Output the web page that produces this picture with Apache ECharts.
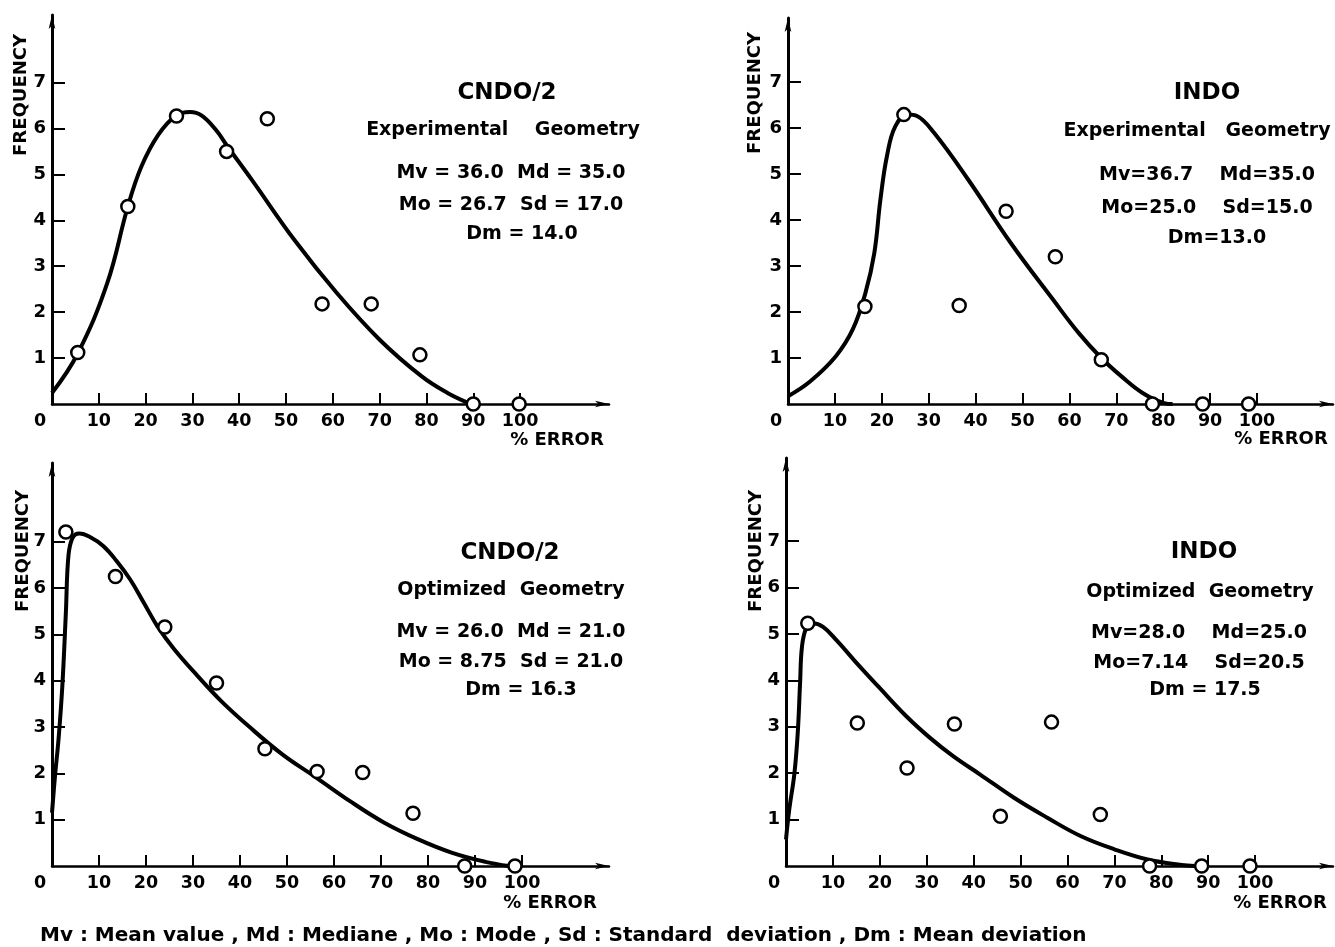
<!DOCTYPE html>
<html>
<head>
<meta charset="utf-8">
<title>Frequency of % error</title>
<style>
  html, body { margin: 0; padding: 0; background: #fff; }
  #page { width: 1335px; height: 947px; }
</style>
</head>
<body>
<div id="page"></div>
<script src="https://cdn.jsdelivr.net/npm/echarts@6/dist/echarts.min.js"></script>
<script>
// measured points (% error, frequency) for each panel
var p1x = [5.5, 16.2, 26.6, 37.3, 46.0, 57.7, 68.2, 78.6, 90, 99.8];
var p1y = [1.12, 4.3, 6.27, 5.5, 6.21, 2.18, 2.18, 1.07, 0, 0];
var p2x = [16.4, 24.7, 36.5, 46.5, 57, 66.8, 77.7, 88.4, 98.2];
var p2y = [2.12, 6.29, 2.14, 4.19, 3.2, 0.96, 0, 0, 0];
var p3x = [2.95, 13.5, 24, 35, 45.3, 56.4, 66.1, 76.8, 87.8, 98.5];
var p3y = [7.21, 6.25, 5.16, 3.95, 2.53, 2.04, 2.02, 1.14, 0, 0];
var p4x = [4.64, 15.2, 25.8, 35.9, 45.7, 56.6, 67, 77.5, 88.6, 98.9];
var p4y = [5.23, 3.08, 2.11, 3.06, 1.07, 3.1, 1.11, 0, 0, 0];

// fitted curves
var c1x = [0, 5.5, 11.8, 16.2, 19.1, 22.7, 26.6, 29.5, 32, 35, 37.7, 42.7, 51.8, 60.9, 70, 79, 84.5, 89, 90];
var c1y = [0.24, 1.1, 2.63, 4.3, 5.17, 5.86, 6.29, 6.36, 6.28, 5.97, 5.58, 4.88, 3.57, 2.41, 1.4, 0.6, 0.24, 0.02, 0];
var c2x = [0, 4.7, 10.2, 13.8, 16.5, 18.4, 19.7, 21.1, 22.9, 25.6, 27.5, 31.1, 38.4, 47.5, 56.5, 62, 66.8, 71.1, 75.6, 80.2, 82];
var c2y = [0.17, 0.49, 1.04, 1.62, 2.41, 3.28, 4.44, 5.39, 6.04, 6.29, 6.26, 5.9, 4.88, 3.5, 2.27, 1.54, 1.0, 0.6, 0.24, 0.02, 0];
var c3x = [0, 0.6, 1.4, 2.2, 2.95, 3.5, 4.4, 5.8, 8.0, 10.9, 13.7, 16.6, 19.5, 22.4, 26, 31, 36, 41.8, 49, 56.2, 63.4, 70.6, 77.8, 85, 92.2, 97.2];
var c3y = [1.15, 1.9, 2.75, 3.89, 5.47, 6.7, 7.09, 7.18, 7.11, 6.91, 6.59, 6.19, 5.69, 5.18, 4.68, 4.1, 3.56, 3.02, 2.41, 1.91, 1.4, 0.94, 0.58, 0.29, 0.09, 0];
var c4x = [0, 0.7, 1.8, 2.5, 3.0, 3.4, 4.3, 5.7, 7.9, 10.7, 15.7, 20, 25.7, 30.7, 35.7, 41.4, 48.6, 55.7, 62.9, 70, 77.1, 84.3, 87.1];
var c4y = [0.57, 1.22, 2.0, 2.86, 3.94, 4.72, 5.12, 5.23, 5.15, 4.87, 4.3, 3.83, 3.22, 2.76, 2.36, 1.97, 1.47, 1.04, 0.64, 0.36, 0.14, 0.02, 0];

var xTicks = [10, 20, 30, 40, 50, 60, 70, 80, 90, 100];
var xLabels = [0, 10, 20, 30, 40, 50, 60, 70, 80, 90, 100];
var yTicks = [1, 2, 3, 4, 5, 6, 7];

var titles = ['CNDO/2', 'INDO', 'CNDO/2', 'INDO'];
var geoms = ['Experimental    Geometry', 'Experimental   Geometry', 'Optimized  Geometry', 'Optimized  Geometry'];
var statsA = ['Mv = 36.0  Md = 35.0', 'Mv=36.7    Md=35.0', 'Mv = 26.0  Md = 21.0', 'Mv=28.0    Md=25.0'];
var statsB = ['Mo = 26.7  Sd = 17.0', 'Mo=25.0    Sd=15.0', 'Mo = 8.75  Sd = 21.0', 'Mo=7.14    Sd=20.5'];
var statsC = ['Dm = 14.0', 'Dm=13.0', 'Dm = 16.3', 'Dm = 17.5'];
var yName = 'FREQUENCY';
var xName = '% ERROR';
var footer = 'Mv : Mean value , Md : Mediane , Mo : Mode , Sd : Standard  deviation , Dm : Mean deviation';

(function () {
    var fam = '"DejaVu Sans", "Liberation Sans", sans-serif';
    var chart = echarts.init(document.getElementById('page'));

    var grids = [
        {left: 52, top: 15, width: 557, height: 389},
        {left: 788, top: 18, width: 545, height: 386},
        {left: 52, top: 463, width: 557, height: 403},
        {left: 786, top: 458, width: 547, height: 408}
    ];
    var xMax = [119, 116.2, 118.5, 116.6];
    var yMax = [8.47, 8.39, 8.7, 8.79];

    var pts = [[p1x, p1y], [p2x, p2y], [p3x, p3y], [p4x, p4y]];
    var curves = [[c1x, c1y], [c2x, c2y], [c3x, c3y], [c4x, c4y]];

    function zip(xs, ys) {
        return xs.map(function (v, i) { return [v, ys[i]]; });
    }

    var xAxes = [], yAxes = [], series = [];
    grids.forEach(function (g, i) {
        g.outerBoundsMode = 'none';
        xAxes.push({
            type: 'value', gridIndex: i, min: 0, max: xMax[i],
            axisLine: {onZero: false, symbol: ['none', 'arrow'], symbolSize: [5, 14],
                lineStyle: {color: '#000', width: 2.5}},
            axisTick: {show: true, inside: true, length: 11, customValues: xTicks,
                lineStyle: {color: '#000', width: 2}},
            axisLabel: {
                customValues: xLabels, margin: 8, color: '#000',
                fontSize: 17.5, fontWeight: 'bold', fontFamily: fam,
                formatter: function (v) { return v === 0 ? '{z|0}' : String(v); },
                rich: {z: {padding: [0, 24, 0, 0], fontSize: 17.5, fontWeight: 'bold', fontFamily: fam, color: '#000'}}
            },
            splitLine: {show: false}
        });
        yAxes.push({
            type: 'value', gridIndex: i, min: 0, max: yMax[i],
            axisLine: {show: true, onZero: false, symbol: ['none', 'arrow'], symbolSize: [5, 14],
                lineStyle: {color: '#000', width: 3}},
            axisTick: {show: true, inside: true, length: 13, customValues: yTicks,
                lineStyle: {color: '#000', width: 2}},
            axisLabel: {customValues: yTicks, margin: 6, color: '#000',
                fontSize: 18, fontWeight: 'bold', fontFamily: fam},
            splitLine: {show: false}
        });
        series.push({
            type: 'line', xAxisIndex: i, yAxisIndex: i,
            data: zip(curves[i][0], curves[i][1]),
            smooth: 0.4, symbol: 'none',
            lineStyle: {color: '#000', width: 4},
            z: 2, silent: true
        });
        series.push({
            type: 'scatter', xAxisIndex: i, yAxisIndex: i,
            data: zip(pts[i][0], pts[i][1]),
            symbol: 'circle', symbolSize: 13,
            itemStyle: {color: '#fff', borderColor: '#000', borderWidth: 2.5, opacity: 1},
            z: 3, silent: true
        });
    });

    // annotation text
    function txt(s, x, y, size, align, rot) {
        return {
            type: 'text', x: x, y: y, rotation: rot || 0,
            style: {text: s, fill: '#000', align: align || 'center', verticalAlign: 'middle',
                font: 'bold ' + size + 'px ' + fam}
        };
    }
    var g = [];
    var tx = [507, 1207, 510, 1204];
    var ty = [93, 93, 553, 552];
    var gx = [503, 1197, 511, 1200];
    var gy = [130, 131, 590, 592];
    var sx = [511, 1207, 511, 1199];
    var sy = [[173, 205, 234], [175, 208, 238], [632, 662, 690], [633, 663, 690]];
    var dx = [522, 1217, 521, 1205];
    for (var i = 0; i < 4; i++) {
        g.push(txt(titles[i], tx[i], ty[i], 23));
        g.push(txt(geoms[i], gx[i], gy[i], 19));
        g.push(txt(statsA[i], sx[i], sy[i][0], 19));
        g.push(txt(statsB[i], sx[i], sy[i][1], 19));
        g.push(txt(statsC[i], dx[i], sy[i][2], 19));
    }
    var fx = [21, 755, 23, 756], fy = [95, 93, 551, 551];
    var ex = [557, 1281, 550, 1280], ey = [440, 439, 903, 903];
    for (var j = 0; j < 4; j++) {
        g.push(txt(yName, fx[j], fy[j], 18, 'center', Math.PI / 2));
        g.push(txt(xName, ex[j], ey[j], 18));
    }
    g.push(txt(footer, 40, 936, 20, 'left'));

    chart.setOption({
        backgroundColor: '#fff',
        animation: false,
        grid: grids,
        xAxis: xAxes,
        yAxis: yAxes,
        series: series,
        graphic: g
    });
})();
</script>
</body>
</html>
